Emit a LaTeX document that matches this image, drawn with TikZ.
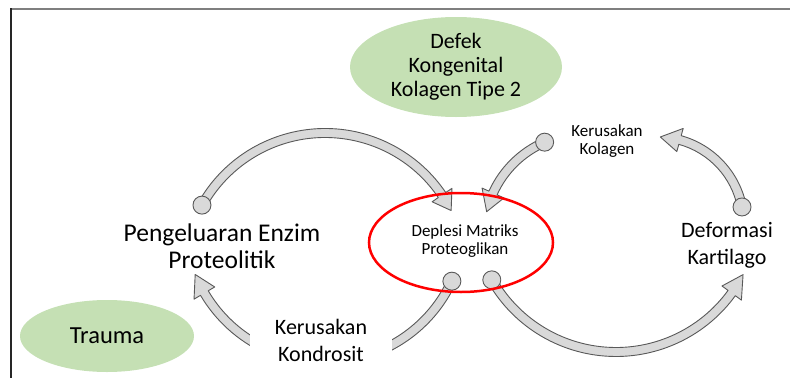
\documentclass[tikz,border=0pt]{standalone}
\usepackage{fontspec}
\setmainfont{Carlito}
\usetikzlibrary{calc,shapes.geometric}
\definecolor{leaf}{HTML}{C5E0B4}
\definecolor{shaft}{HTML}{D9D9D9}
\definecolor{rim}{HTML}{595959}
\definecolor{framegray}{HTML}{7F7F7F}
\tikzset{
  arrowbody/.style={fill=shaft, draw=rim, line width=0.9pt, line join=round},
  cause/.style={ellipse, fill=leaf, inner sep=0pt, align=center},
  biglabel/.style={align=center, inner sep=0pt, font=\fontsize{22}{27}\selectfont},
  smalllabel/.style={align=center, inner sep=0pt, font=\fontsize{17}{18.5}\selectfont},
}
% curved block arrow: centre, radius, start angle, head base angle, tip angle
\newcommand{\arcarrow}[5]{%
  \filldraw[arrowbody]
    ($(#1)+(#3:#2+4.5)$) arc[start angle=#3, end angle=#4, radius=#2+4.5]
    -- ($(#1)+(#4:#2+12)$) -- ($(#1)+(#5:#2)$) -- ($(#1)+(#4:#2-12)$)
    -- ($(#1)+(#4:#2-4.5)$) arc[start angle=#4, end angle=#3, radius=#2-4.5]
    -- cycle;
  \filldraw[arrowbody] ($(#1)+(#3:#2)$) circle[radius=9];
}
\begin{document}
\begin{tikzpicture}[x=1pt, y=-1pt]
  \useasboundingbox (0,0) rectangle (790,378);
  % frame
  \draw[framegray, line width=2pt] (11,9) -- (790,9);
  \draw[black!85, line width=1.3pt] (11,8) -- (11,378);

  % centres of the curved arrows
  \coordinate (c1) at (325.1,274.2);
  \coordinate (c2) at (584.5,234.3);
  \coordinate (c3) at (657,223.5);
  \coordinate (c4) at (616,209);
  \coordinate (c5) at (325,222);

  \arcarrow{c1}{141.2}{-150.7}{-34.1}{-26.8}
  \arcarrow{c2}{100.4}{-113.4}{-155.7}{-167}
  \arcarrow{c3}{86.6}{-11}{-74.6}{-87.8}
  \arcarrow{c4}{143}{150.3}{36}{27.3}
  \arcarrow{c5}{140}{25}{149.5}{158}

  % causes
  \node[cause, minimum width=212pt, minimum height=100pt,
        font=\fontsize{22}{24}\selectfont] (defek) at (456,67)
        {Defek\\Kongenital\\Kolagen Tipe 2};
  \node[cause, minimum width=174pt, minimum height=72pt,
        font=\fontsize{24.5}{27}\selectfont] (trauma) at (107,336) {Trauma};

  % central ellipse
  \node[ellipse, draw=red, line width=2.5pt, minimum width=184pt,
        minimum height=99pt] (deplesi) at (461,242.5) {};
  \node[smalllabel] (deplesitxt) at (465,241) {Deplesi Matriks\\Proteoglikan};

  % stages of the cycle
  \node[biglabel, font=\fontsize{25.5}{27}\selectfont] (enzim) at (222,246)
        {Pengeluaran Enzim\\Proteolitik};
  \node[biglabel] (deformasi) at (727,245) {Deformasi\\Kartilago};
  \node[smalllabel] (kolagen) at (607,141) {Kerusakan\\Kolagen};
  \node[biglabel, fill=white, minimum width=142pt, minimum height=56pt]
        (kondrosit) at (321,340) {Kerusakan\\Kondrosit};
\end{tikzpicture}
\end{document}
